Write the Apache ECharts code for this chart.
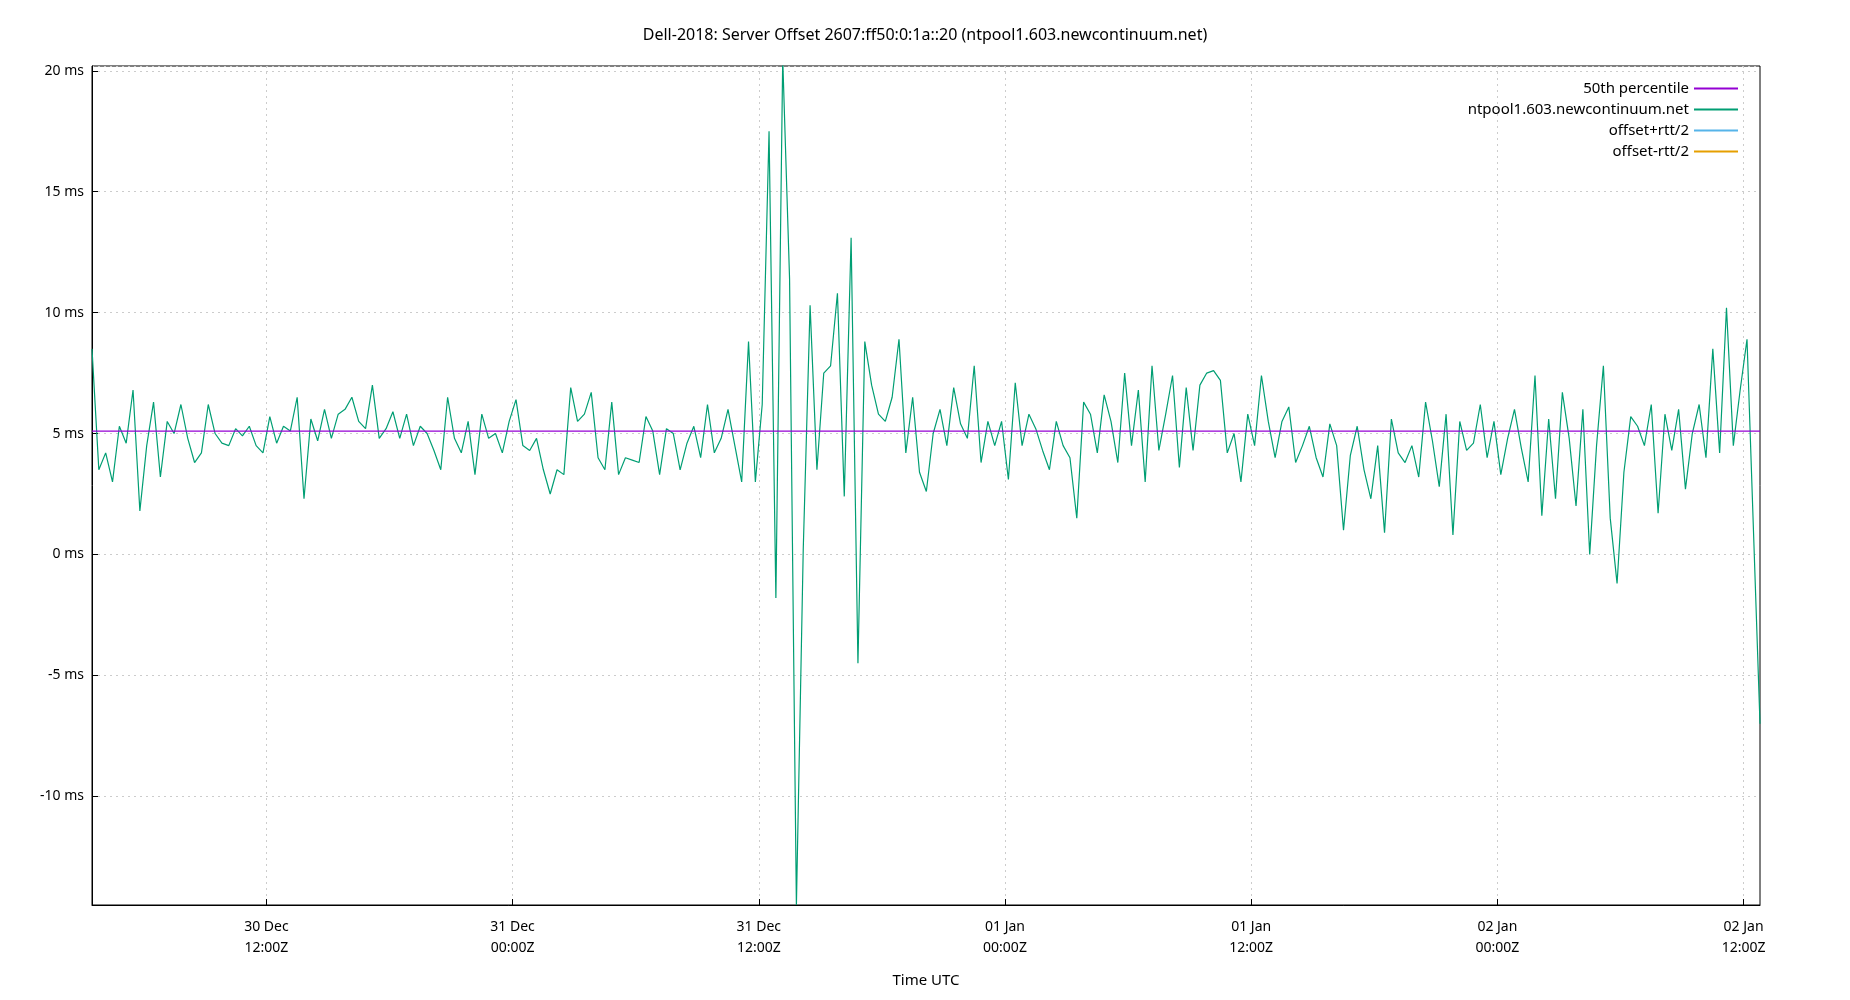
<!DOCTYPE html>
<html>
<head>
<meta charset="utf-8">
<script src="https://cdn.jsdelivr.net/npm/echarts@6/dist/echarts.min.js"></script>
<style>html,body{margin:0;padding:0;background:#fff}#main{width:1850px;height:1000px}</style>
</head>
<body>
<div id="main"></div>
<script>
var startTime = Date.UTC(2018, 11, 30, 3, 30);
var endTime = Date.UTC(2018, 11, 30, 3, 30) + 81.3 * 3600 * 1000;
var stepMinutes = 20;
var offsetValues = [
  8.5,3.5,4.2,3.0,5.3,4.6,6.8,1.8,4.5,6.3,3.2,5.5,5.0,6.2,4.8,3.8,4.2,6.2,5.0,4.6,4.5,5.2,4.9,5.3,
  4.5,4.2,5.7,4.6,5.3,5.1,6.5,2.3,5.6,4.7,6.0,4.8,5.8,6.0,6.5,5.5,5.2,7.0,4.8,5.2,5.9,4.8,5.8,4.5,5.3,5.0,4.3,3.5,6.5,4.8,4.2,5.5,3.3,5.8,4.8,5.0,
  4.2,5.5,6.4,4.5,4.3,4.8,3.5,2.5,3.5,3.3,6.9,5.5,5.8,6.7,4.0,3.5,6.3,3.3,4.0,3.9,3.8,5.7,5.1,3.3,5.2,5.0,3.5,4.6,5.3,4.0,6.2,4.2,4.8,6.0,4.5,3.0,
  8.8,3.0,6.2,17.5,-1.8,20.5,11.4,-14.5,0.2,10.3,3.5,7.5,7.8,10.8,2.4,13.1,-4.5,8.8,7.0,5.8,5.5,6.5,8.9,4.2,6.5,3.4,2.6,5.0,6.0,4.5,6.9,5.4,4.8,7.8,3.8,5.5,
  4.5,5.5,3.1,7.1,4.5,5.8,5.2,4.3,3.5,5.5,4.5,4.0,1.5,6.3,5.8,4.2,6.6,5.5,3.8,7.5,4.5,6.8,3.0,7.8,4.3,5.8,7.4,3.6,6.9,4.3,7.0,7.5,7.6,7.2,4.2,5.0,
  3.0,5.8,4.5,7.4,5.5,4.0,5.5,6.1,3.8,4.5,5.3,4.0,3.2,5.4,4.5,1.0,4.1,5.3,3.5,2.3,4.5,0.9,5.6,4.2,3.8,4.5,3.2,6.3,4.7,2.8,5.8,0.8,5.5,4.3,4.6,6.2,
  4.0,5.5,3.3,4.8,6.0,4.4,3.0,7.4,1.6,5.6,2.3,6.7,4.8,2.0,6.0,0.0,4.5,7.8,1.5,-1.2,3.4,5.7,5.3,4.5,6.2,1.7,5.8,4.3,6.0,2.7,5.0,6.2,4.0,8.5,4.2,10.2,
  4.5,6.8,8.9,-7.0
];
var medianValue = 5.1;
var seriesNames = ['50th percentile', 'ntpool1.603.newcontinuum.net', 'offset+rtt/2', 'offset-rtt/2'];
var seriesColors = ['#9400d3', '#009e73', '#56b4e9', '#e69f00'];
var tickTimes = [
  Date.UTC(2018, 11, 30, 12), Date.UTC(2018, 11, 31, 0), Date.UTC(2018, 11, 31, 12),
  Date.UTC(2019, 0, 1, 0), Date.UTC(2019, 0, 1, 12), Date.UTC(2019, 0, 2, 0), Date.UTC(2019, 0, 2, 12)
];

var offsetData = [];
for (var i = 0; i < offsetValues.length; i++) {
  var t = startTime + i * stepMinutes * 60000;
  if (i === offsetValues.length - 1) t = endTime;
  offsetData.push([t, offsetValues[i]]);
}

var chart = echarts.init(document.getElementById('main'));
var font = 'Noto Sans';
function pad(n){ return n < 10 ? '0' + n : '' + n; }
var months = ['Jan','Feb','Mar','Apr','May','Jun','Jul','Aug','Sep','Oct','Nov','Dec'];

chart.setOption({
  backgroundColor: '#fff',
  animation: false,
  textStyle: { fontFamily: font },
  title: {
    text: 'Dell-2018: Server Offset 2607:ff50:0:1a::20 (ntpool1.603.newcontinuum.net)',
    left: 'center', top: 22,
    textStyle: { fontSize: 16, fontWeight: 'normal', color: '#000', fontFamily: font }
  },
  legend: {
    right: 107, top: 76, orient: 'vertical', align: 'right',
    itemWidth: 44, itemHeight: 2, itemGap: 6,
    icon: 'rect',
    textStyle: { fontSize: 15, color: '#000', fontFamily: font },
    data: seriesNames
  },
  grid: { left: 92, right: 90, top: 66, bottom: 95, show: true, borderColor: '#000', borderWidth: 1 },
  xAxis: {
    type: 'value', min: startTime, max: endTime,
    name: 'Time UTC', nameLocation: 'middle', nameGap: 68,
    nameTextStyle: { fontSize: 15, color: '#000' },
    axisLine: { onZero: false, lineStyle: { color: '#000' } },
    axisTick: { inside: true, length: 6, customValues: tickTimes, lineStyle: { color: '#000' } },
    splitLine: { show: true, lineStyle: { color: '#ccc', type: [2, 4] } },
    axisLabel: {
      customValues: tickTimes,
      fontSize: 14, color: '#000', lineHeight: 21, margin: 12,
      formatter: function (v) {
        var d = new Date(v);
        return pad(d.getUTCDate()) + ' ' + months[d.getUTCMonth()] + '\n' + pad(d.getUTCHours()) + ':' + pad(d.getUTCMinutes()) + 'Z';
      }
    }
  },
  yAxis: {
    type: 'value', min: -14.5, max: 20.2, splitNumber: 7,
    axisLine: { show: true, lineStyle: { color: '#000' } },
    axisTick: { inside: true, length: 6, lineStyle: { color: '#000' } },
    splitLine: { show: true, lineStyle: { color: '#ccc', type: [2, 4] } },
    axisLabel: {
      showMinLabel: false, showMaxLabel: false,
      fontSize: 14, color: '#000',
      formatter: function (v) { return v + ' ms'; }
    }
  },
  series: [
    { name: seriesNames[0], type: 'line', symbol: 'none', color: seriesColors[0], lineStyle: { width: 1.2 }, z: 3,
      data: [[startTime, medianValue], [endTime, medianValue]] },
    { name: seriesNames[1], type: 'line', symbol: 'none', color: seriesColors[1], lineStyle: { width: 1.2 }, z: 2,
      data: offsetData },
    { name: seriesNames[2], type: 'line', symbol: 'none', color: seriesColors[2], lineStyle: { width: 1 }, data: [] },
    { name: seriesNames[3], type: 'line', symbol: 'none', color: seriesColors[3], lineStyle: { width: 1 }, data: [] }
  ]
});
</script>
</body>
</html>
